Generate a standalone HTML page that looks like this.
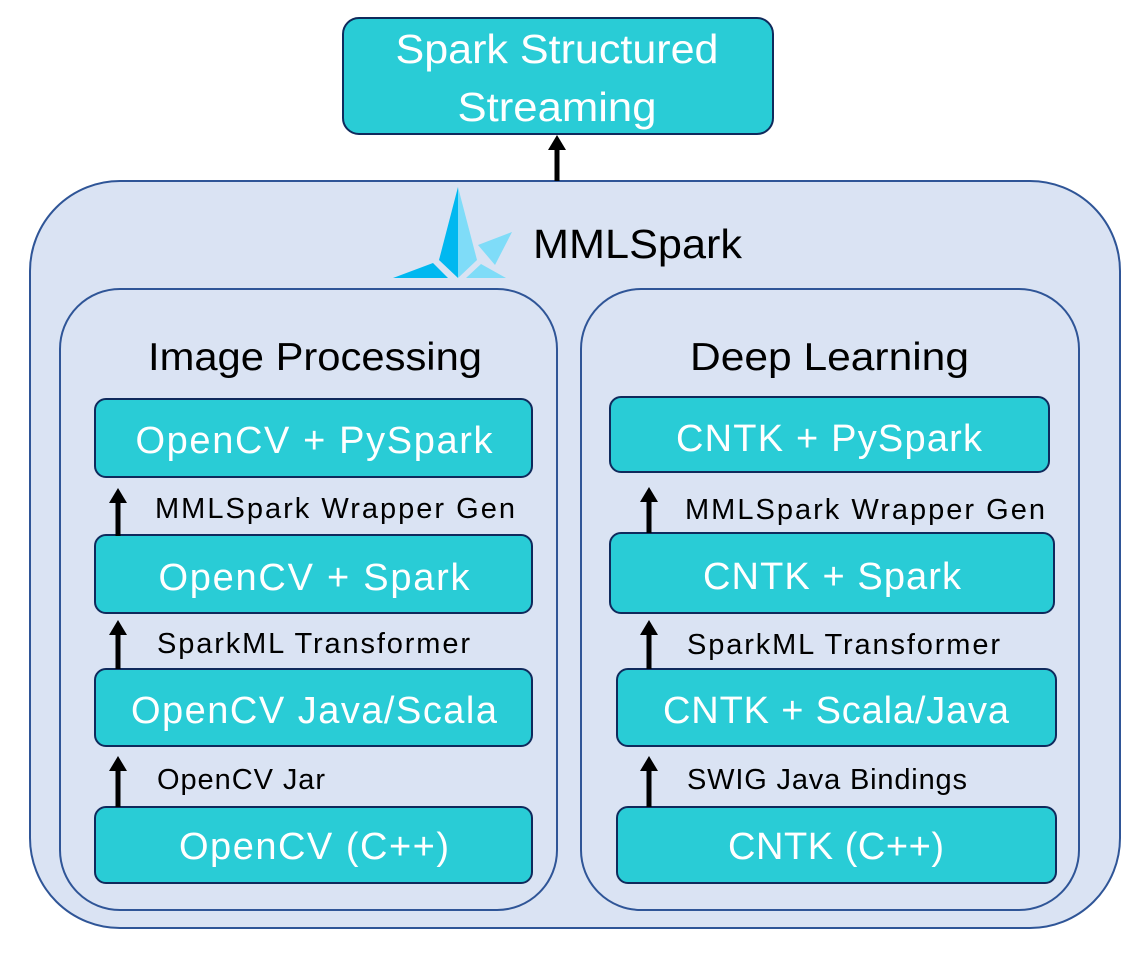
<!DOCTYPE html>
<html><head><meta charset="utf-8"><style>html,body{margin:0;padding:0;background:#fff}svg{display:block}</style></head>
<body>
<svg width="1148" height="958" viewBox="0 0 1148 958" xmlns="http://www.w3.org/2000/svg" font-family="Liberation Sans, sans-serif">
<rect x="30" y="181" width="1090" height="747" rx="90" fill="#dae3f3" stroke="#2f5597" stroke-width="2"/>
<rect x="60" y="289" width="497" height="621" rx="60" fill="#dae3f3" stroke="#2f5597" stroke-width="2"/>
<rect x="581" y="289" width="498" height="621" rx="60" fill="#dae3f3" stroke="#2f5597" stroke-width="2"/>
<rect x="343" y="18" width="430" height="116" rx="16" fill="#29ccd6" stroke="#0f2a5c" stroke-width="2"/>
<text x="557" y="63" fill="#fff" font-size="41" text-anchor="middle" textLength="323" lengthAdjust="spacingAndGlyphs">Spark Structured</text>
<text x="557" y="121" fill="#fff" font-size="41" text-anchor="middle" textLength="199" lengthAdjust="spacingAndGlyphs">Streaming</text>
<g transform="translate(557,135)"><rect x="-2.5" y="14" width="5" height="32" fill="#000"/><polygon points="-9,15 0,0 9,15" fill="#000"/></g>
<polygon points="439,260 458,187 458,278" fill="#00b8f0"/>
<polygon points="458,187 477,260 458,278" fill="#7fdcf8"/>
<polygon points="478,245 512,232 495,265" fill="#7fdcf8"/>
<polygon points="393,278 433,263 448,278" fill="#00b8f0"/>
<polygon points="466,278 481,264 506,278" fill="#7fdcf8"/>
<text x="533" y="258" fill="#000" font-size="41" textLength="209" lengthAdjust="spacingAndGlyphs">MMLSpark</text>
<text x="148" y="370" fill="#000" font-size="39" textLength="334" lengthAdjust="spacingAndGlyphs">Image Processing</text>
<text x="690" y="370" fill="#000" font-size="39" textLength="279" lengthAdjust="spacingAndGlyphs">Deep Learning</text>
<g fill="#29ccd6" stroke="#0f2a5c" stroke-width="2">
<rect x="95" y="399" width="437" height="78" rx="11"/>
<rect x="95" y="535" width="437" height="78" rx="11"/>
<rect x="95" y="669" width="437" height="77" rx="11"/>
<rect x="95" y="807" width="437" height="76" rx="11"/>
<rect x="610" y="397" width="439" height="75" rx="11"/>
<rect x="610" y="533" width="444" height="80" rx="11"/>
<rect x="617" y="669" width="439" height="77" rx="11"/>
<rect x="617" y="807" width="439" height="76" rx="11"/>
</g>
<g fill="#fff" font-size="38" text-anchor="middle" lengthAdjust="spacingAndGlyphs">
<text x="314" y="453" textLength="357">OpenCV + PySpark</text>
<text x="314" y="590" textLength="311">OpenCV + Spark</text>
<text x="314" y="723" textLength="366">OpenCV Java/Scala</text>
<text x="314" y="859" textLength="270">OpenCV (C++)</text>
<text x="829" y="451" textLength="306">CNTK + PySpark</text>
<text x="832" y="589" textLength="258">CNTK + Spark</text>
<text x="836" y="723" textLength="346">CNTK + Scala/Java</text>
<text x="836" y="859" textLength="216">CNTK (C++)</text>
</g>
<g fill="#000" font-size="29" lengthAdjust="spacingAndGlyphs">
<text x="155" y="518" textLength="360">MMLSpark Wrapper Gen</text>
<text x="157" y="653" textLength="313">SparkML Transformer</text>
<text x="157" y="789" textLength="168">OpenCV Jar</text>
<text x="685" y="519" textLength="360">MMLSpark Wrapper Gen</text>
<text x="687" y="654" textLength="313">SparkML Transformer</text>
<text x="687" y="789" textLength="280">SWIG Java Bindings</text>
</g>
<g transform="translate(118,488)"><rect x="-2.5" y="14" width="5" height="34" fill="#000"/><polygon points="-9,15 0,0 9,15" fill="#000"/></g>
<g transform="translate(118,620)"><rect x="-2.5" y="14" width="5" height="35" fill="#000"/><polygon points="-9,15 0,0 9,15" fill="#000"/></g>
<g transform="translate(118,756)"><rect x="-2.5" y="14" width="5" height="37" fill="#000"/><polygon points="-9,15 0,0 9,15" fill="#000"/></g>
<g transform="translate(649,487)"><rect x="-2.5" y="14" width="5" height="32" fill="#000"/><polygon points="-9,15 0,0 9,15" fill="#000"/></g>
<g transform="translate(649,620)"><rect x="-2.5" y="14" width="5" height="35" fill="#000"/><polygon points="-9,15 0,0 9,15" fill="#000"/></g>
<g transform="translate(649,756)"><rect x="-2.5" y="14" width="5" height="37" fill="#000"/><polygon points="-9,15 0,0 9,15" fill="#000"/></g>
</svg>
</body></html>
